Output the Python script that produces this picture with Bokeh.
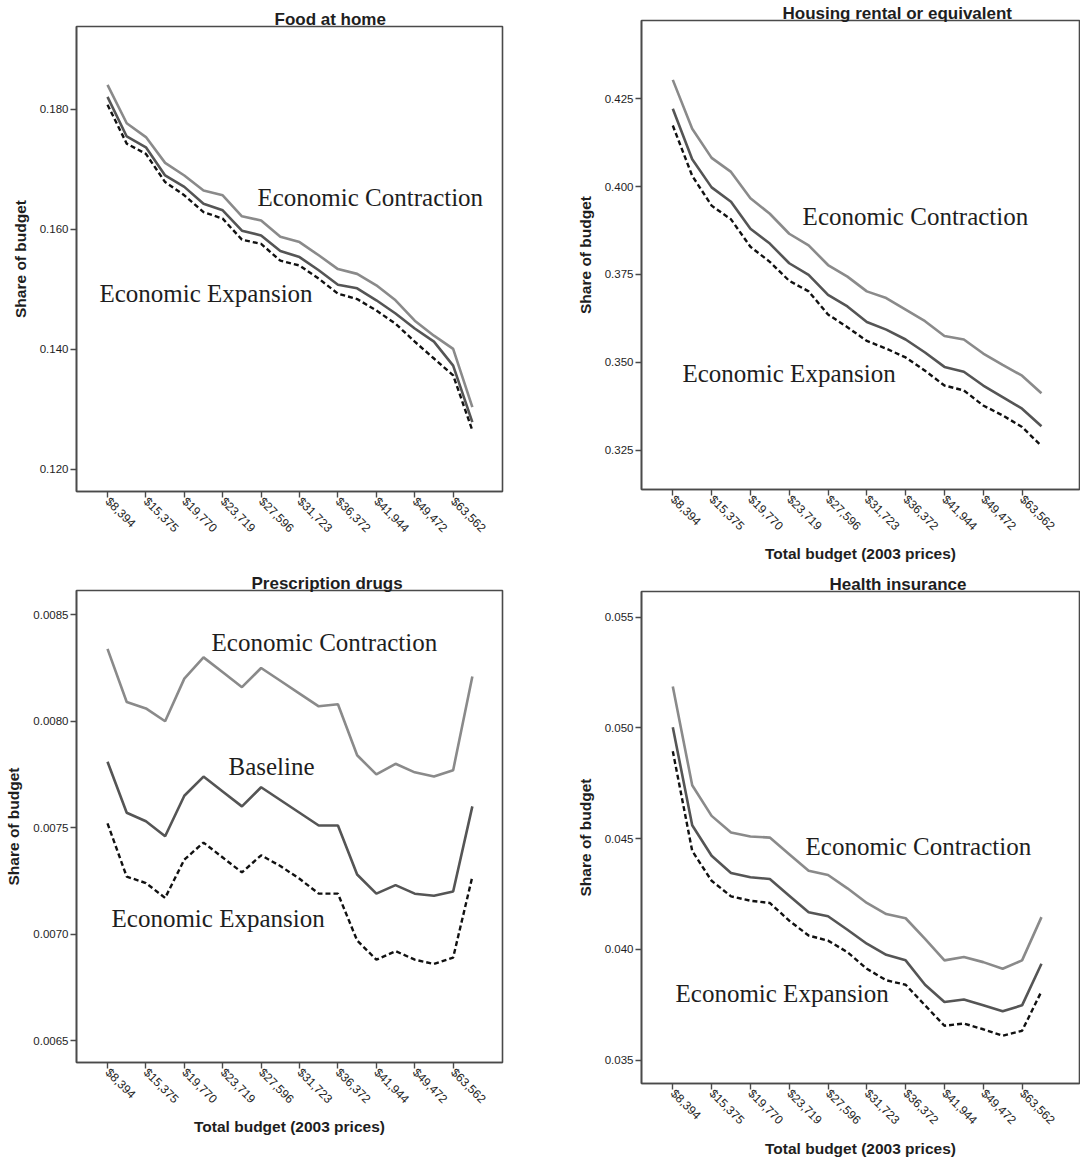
import math
from bokeh.plotting import figure
from bokeh.layouts import row, column
from bokeh.models import Range1d, FixedTicker, PrintfTickFormatter, Label
from bokeh.embed import file_html
from bokeh.resources import INLINE

# ---------------- data ----------------
budget_pos = list(range(20))
tick_pos = [0, 2, 4, 6, 8, 10, 12, 14, 16, 18]
tick_labels = ["$8,394", "$15,375", "$19,770", "$23,719", "$27,596",
               "$31,723", "$36,372", "$41,944", "$49,472", "$63,562"]

food_contraction = [0.1841, 0.1777, 0.1754, 0.1711, 0.1690, 0.1665, 0.1657, 0.1622, 0.1615, 0.1588,
                    0.1579, 0.1557, 0.1534, 0.1526, 0.1507, 0.1482, 0.1448, 0.1423, 0.1401, 0.1304]
food_baseline = [0.1821, 0.1755, 0.1737, 0.1690, 0.1671, 0.1643, 0.1632, 0.1598, 0.1590, 0.1564,
                 0.1554, 0.1532, 0.1508, 0.1502, 0.1482, 0.1460, 0.1435, 0.1413, 0.1373, 0.1279]
food_expansion = [0.1808, 0.1743, 0.1726, 0.1679, 0.1657, 0.1629, 0.1618, 0.1583, 0.1576, 0.1548,
                  0.1540, 0.1518, 0.1493, 0.1484, 0.1465, 0.1443, 0.1413, 0.1385, 0.1357, 0.1265]

housing_contraction = [0.4304, 0.4165, 0.4082, 0.4042, 0.3967, 0.3923, 0.3866, 0.3833, 0.3777, 0.3744,
                       0.3702, 0.3683, 0.3650, 0.3617, 0.3575, 0.3565, 0.3525, 0.3493, 0.3462, 0.3412]
housing_baseline = [0.4222, 0.4078, 0.3998, 0.3957, 0.3880, 0.3838, 0.3782, 0.3749, 0.3692, 0.3659,
                    0.3615, 0.3593, 0.3565, 0.3528, 0.3487, 0.3473, 0.3434, 0.3401, 0.3368, 0.3318]
housing_expansion = [0.4174, 0.4031, 0.3946, 0.3907, 0.3829, 0.3786, 0.3732, 0.3702, 0.3636, 0.3600,
                     0.3561, 0.3539, 0.3514, 0.3476, 0.3434, 0.3420, 0.3377, 0.3349, 0.3316, 0.3262]

drugs_contraction = [0.00834, 0.00809, 0.00806, 0.00800, 0.00820, 0.00830, 0.00823, 0.00816, 0.00825, 0.00819,
                     0.00813, 0.00807, 0.00808, 0.00784, 0.00775, 0.00780, 0.00776, 0.00774, 0.00777, 0.00821]
drugs_baseline = [0.00781, 0.00757, 0.00753, 0.00746, 0.00765, 0.00774, 0.00767, 0.00760, 0.00769, 0.00763,
                  0.00757, 0.00751, 0.00751, 0.00728, 0.00719, 0.00723, 0.00719, 0.00718, 0.00720, 0.00760]
drugs_expansion = [0.00752, 0.00727, 0.00724, 0.00717, 0.00735, 0.00743, 0.00736, 0.00729, 0.00737, 0.00732,
                   0.00726, 0.00719, 0.00719, 0.00697, 0.00688, 0.00692, 0.00688, 0.00686, 0.00689, 0.00727]

health_contraction = [0.05187, 0.04741, 0.04603, 0.04528, 0.04510, 0.04505, 0.04430, 0.04355, 0.04336, 0.04276,
                      0.04210, 0.04160, 0.04141, 0.04048, 0.03951, 0.03966, 0.03943, 0.03913, 0.03951, 0.04146]
health_baseline = [0.05003, 0.04561, 0.04423, 0.04345, 0.04326, 0.04318, 0.04243, 0.04168, 0.04150, 0.04089,
                   0.04026, 0.03976, 0.03951, 0.03841, 0.03763, 0.03774, 0.03748, 0.03721, 0.03748, 0.03936]
health_expansion = [0.04895, 0.04445, 0.04310, 0.04240, 0.04220, 0.04210, 0.04130, 0.04063, 0.04040, 0.03988,
                    0.03913, 0.03861, 0.03841, 0.03748, 0.03656, 0.03666, 0.03640, 0.03611, 0.03633, 0.03811]

food_yticks = [0.120, 0.140, 0.160, 0.180]
housing_yticks = [0.325, 0.350, 0.375, 0.400, 0.425]
drugs_yticks = [0.0065, 0.0070, 0.0075, 0.0080, 0.0085]
health_yticks = [0.035, 0.040, 0.045, 0.050, 0.055]

# ---------------- styling ----------------
AX = "#4a4a4a"
TXT = "#1e1e1e"
C_CON = "#8a8a8a"
C_BASE = "#555555"
C_EXP = "#111111"
SANS = "Liberation Sans"
SERIF = "Liberation Serif"


def panel(title, title_x, w, h, bl, br, bt, bb, xr, yr, yticks, yfmt, con, base, exp,
          texts, xlabel, xlab_standoff=4):
    p = figure(width=w, height=h,
               x_range=Range1d(*xr), y_range=Range1d(*yr),
               min_border_left=bl, min_border_right=br,
               min_border_top=bt, min_border_bottom=bb,
               output_backend="svg", toolbar_location=None,
               background_fill_color="white", border_fill_color="white")
    p.xgrid.visible = False
    p.ygrid.visible = False
    p.outline_line_color = AX
    p.outline_line_width = 1.6
    p.outline_line_alpha = 1.0

    p.title.text = title
    p.title.align = "left"
    p.title.offset = title_x
    p.title.standoff = -4
    p.title.text_font = SANS
    p.title.text_font_style = "bold"
    p.title.text_font_size = "17px"
    p.title.text_color = TXT

    for ax in (p.xaxis[0], p.yaxis[0]):
        ax.axis_line_color = AX
        ax.axis_line_width = 1.6
        ax.major_tick_line_color = AX
        ax.major_tick_line_width = 1.4
        ax.major_tick_in = 0
        ax.minor_tick_line_color = None
        ax.major_label_text_font = SANS
        ax.major_label_text_color = TXT
        ax.axis_label_text_font = SANS
        ax.axis_label_text_font_style = "bold"
        ax.axis_label_text_font_size = "15.5px"
        ax.axis_label_text_color = TXT

    xa = p.xaxis[0]
    xa.ticker = FixedTicker(ticks=tick_pos)
    xa.major_label_overrides = {t: lab for t, lab in zip(tick_pos, tick_labels)}
    xa.major_label_orientation = -math.pi / 4
    xa.major_label_text_font_size = "12px"
    xa.major_tick_out = 6
    xa.major_label_standoff = 2
    if xlabel:
        xa.axis_label = "Total budget (2003 prices)"
        xa.axis_label_standoff = xlab_standoff

    ya = p.yaxis[0]
    ya.ticker = FixedTicker(ticks=yticks)
    ya.formatter = PrintfTickFormatter(format=yfmt)
    ya.major_label_text_font_size = "11.5px"
    ya.major_tick_out = 6
    ya.major_label_standoff = 2
    ya.axis_label = "Share of budget"
    ya.axis_label_standoff = 8

    p.line(budget_pos, con, line_color=C_CON, line_width=2.6)
    p.line(budget_pos, base, line_color=C_BASE, line_width=2.6)
    p.line(budget_pos, exp, line_color=C_EXP, line_width=2.4, line_dash="5 3")

    for tx, ty, t in texts:
        p.add_layout(Label(x=tx, y=ty, text=t, text_font=SERIF, text_font_size="25px",
                           text_color=TXT, text_align="left", text_baseline="middle"))
    return p


xr_left = (-1.615, 20.57)
xr_right = (-1.613, 20.96)

p1 = panel("Food at home", 198, 560, 565, 76, 58, 26, 74, xr_left, (0.11633, 0.19383),
           food_yticks, "%.3f", food_contraction, food_baseline, food_expansion,
           [(7.81, 0.16533, "Economic Contraction"), (-0.42, 0.14933, "Economic Expansion")],
           False)

p3 = panel("Prescription drugs", 175, 560, 595, 76, 58, 25, 98, xr_left, (0.006397, 0.008614),
           drugs_yticks, "%.4f", drugs_contraction, drugs_baseline, drugs_expansion,
           [(5.42, 0.008370, "Economic Contraction"), (6.30, 0.007787, "Baseline"),
            (0.21, 0.007073, "Economic Expansion")],
           True, 4)

p2 = panel("Housing rental or equivalent", 141, 520, 565, 81, 1, 20, 72, xr_right, (0.31380, 0.44730),
           housing_yticks, "%.3f", housing_contraction, housing_baseline, housing_expansion,
           [(6.69, 0.39141, "Economic Contraction"), (0.50, 0.34682, "Economic Expansion")],
           True, 4)

p4 = panel("Health insurance", 188, 520, 595, 81, 1, 26, 75, xr_right, (0.033953, 0.056155),
           health_yticks, "%.3f", health_contraction, health_baseline, health_expansion,
           [(6.84, 0.04465, "Economic Contraction"), (0.14, 0.03800, "Economic Expansion")],
           True, 5)

layout = row(column(p1, p3, spacing=0), column(p2, p4, spacing=0), spacing=0)

open("out.html", "w").write(file_html(layout, INLINE))
